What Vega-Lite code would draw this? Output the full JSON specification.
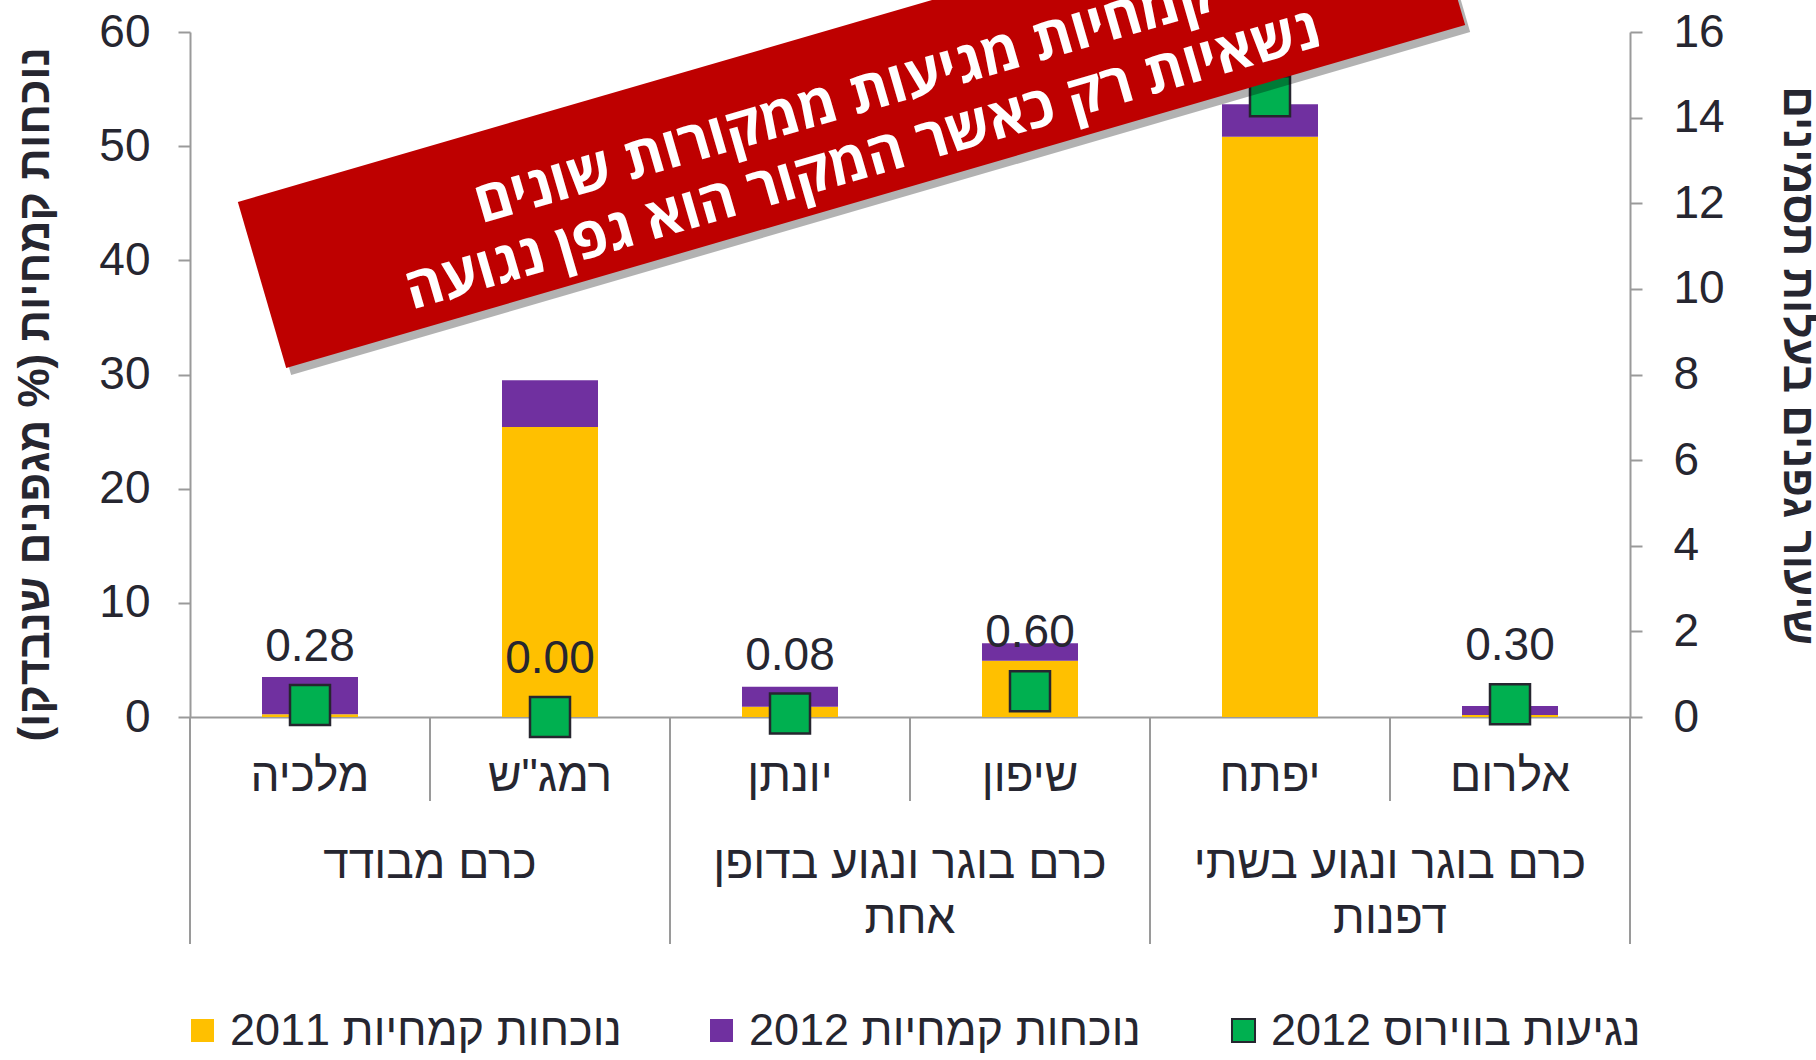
{
  "$schema": "https://vega.github.io/schema/vega-lite/v6.json",
  "width": 1440,
  "height": 685,
  "autosize": {"type": "none"},
  "padding": {"left": 190, "top": 32, "right": 186, "bottom": 343},
  "background": "white",
  "config": {
    "view": {"stroke": null},
    "font": "Liberation Sans",
    "axis": {"grid": false, "labelFont": "Liberation Sans", "labelFontSize": 46, "labelColor": "#262630", "domainColor": "#9a9a9a", "domainWidth": 2, "tickColor": "#9a9a9a", "tickWidth": 2, "titleFont": "Liberation Sans", "titleColor": "#262630"}
  },
  "datasets": {
    "bars": [
      {"vineyard": "מלכיה", "series": "נוכחות קמחיות 2011", "ord": 1, "value": 0.25},
      {"vineyard": "מלכיה", "series": "נוכחות קמחיות 2012", "ord": 2, "value": 3.25},
      {"vineyard": "רמג\"ש", "series": "נוכחות קמחיות 2011", "ord": 1, "value": 25.4},
      {"vineyard": "רמג\"ש", "series": "נוכחות קמחיות 2012", "ord": 2, "value": 4.1},
      {"vineyard": "יונתן", "series": "נוכחות קמחיות 2011", "ord": 1, "value": 0.9},
      {"vineyard": "יונתן", "series": "נוכחות קמחיות 2012", "ord": 2, "value": 1.76},
      {"vineyard": "שיפון", "series": "נוכחות קמחיות 2011", "ord": 1, "value": 4.93},
      {"vineyard": "שיפון", "series": "נוכחות קמחיות 2012", "ord": 2, "value": 1.52},
      {"vineyard": "יפתח", "series": "נוכחות קמחיות 2011", "ord": 1, "value": 50.83},
      {"vineyard": "יפתח", "series": "נוכחות קמחיות 2012", "ord": 2, "value": 2.84},
      {"vineyard": "אלרום", "series": "נוכחות קמחיות 2011", "ord": 1, "value": 0.18},
      {"vineyard": "אלרום", "series": "נוכחות קמחיות 2012", "ord": 2, "value": 0.78}
    ],
    "virus": [
      {"vineyard": "מלכיה", "series": "נגיעות בווירוס 2012", "rate": 0.28},
      {"vineyard": "רמג\"ש", "series": "נגיעות בווירוס 2012", "rate": 0.0},
      {"vineyard": "יונתן", "series": "נגיעות בווירוס 2012", "rate": 0.08},
      {"vineyard": "שיפון", "series": "נגיעות בווירוס 2012", "rate": 0.6},
      {"vineyard": "יפתח", "series": "נגיעות בווירוס 2012", "rate": 14.5},
      {"vineyard": "אלרום", "series": "נגיעות בווירוס 2012", "rate": 0.3}
    ],
    "groups": [
      {"lines": ["כרם מבודד"], "first": "מלכיה", "last": "רמג\"ש"},
      {"lines": ["כרם בוגר ונגוע בדופן", "אחת"], "first": "יונתן", "last": "שיפון"},
      {"lines": ["כרם בוגר ונגוע בשתי", "דפנות"], "first": "יפתח", "last": "אלרום"}
    ]
  },
  "layer": [
    {
      "layer": [
        {
          "data": {"name": "bars"},
          "mark": {"type": "bar"},
          "encoding": {
            "x": {"field": "vineyard", "type": "nominal", "title": null,
              "scale": {"domain": ["מלכיה", "רמג\"ש", "יונתן", "שיפון", "יפתח", "אלרום"], "paddingInner": 0.6, "paddingOuter": 0.3},
              "axis": {"title": null, "labelAngle": 0, "ticks": false, "labelPadding": 59, "labelBaseline": "middle"}},
            "y": {"field": "value", "type": "quantitative", "stack": "zero",
              "scale": {"domain": [0, 60], "nice": false, "zero": true},
              "axis": {"orient": "left", "values": [0, 10, 20, 30, 40, 50, 60], "tickSize": 12, "labelPadding": 28,
                "title": "נוכחות קמחיות (% מגפנים שנבדקו)", "titleFontSize": 44, "titleFontWeight": "bold", "titleX": -155, "titleY": 362, "titleAlign": "center", "titleBaseline": "middle", "titleAngle": -90}},
            "color": {"field": "series", "type": "nominal",
              "scale": {"domain": ["נוכחות קמחיות 2011", "נוכחות קמחיות 2012", "נגיעות בווירוס 2012"], "range": ["#FFC000", "#7030A0", "#00B050"]},
              "legend": {"orient": "none", "legendX": -10, "legendY": 976, "direction": "horizontal", "title": null, "symbolType": "square", "symbolSize": 530, "symbolStrokeWidth": 0, "labelFontSize": 45, "labelColor": "#262630", "labelFont": "Liberation Sans", "labelOffset": 5, "columnPadding": 80, "padding": 0, "labelLimit": 600, "gridAlign": "none",
                "symbolOpacity": 1,
                "encode": {"symbols": {"update": {"stroke": {"signal": "datum.value === 'נגיעות בווירוס 2012' ? '#26262f' : 'transparent'"}, "strokeWidth": {"value": 2}}}}}},
            "order": {"field": "ord", "type": "quantitative"}
          }
        },
        {
          "data": {"name": "groups"},
          "mark": {"type": "rule", "color": "#9a9a9a", "strokeWidth": 2},
          "encoding": {
            "x": {"field": "last", "type": "nominal", "bandPosition": 1.75, "title": null},
            "y": {"datum": 0, "type": "quantitative", "scale": {"domain": [0, 60], "nice": false}, "axis": null},
            "y2": {"datum": -19.88}
          }
        },
        {
          "data": {"name": "groups"},
          "mark": {"type": "rule", "color": "#9a9a9a", "strokeWidth": 2},
          "encoding": {
            "x": {"field": "first", "type": "nominal", "bandPosition": 1.75, "title": null},
            "y": {"datum": 0, "type": "quantitative", "scale": {"domain": [0, 60], "nice": false}, "axis": null},
            "y2": {"datum": -7.36}
          }
        },
        {
          "data": {"values": [{}]},
          "mark": {"type": "rule", "color": "#9a9a9a", "strokeWidth": 2},
          "encoding": {
            "x": {"datum": "מלכיה", "type": "nominal", "bandPosition": -0.75, "title": null},
            "y": {"datum": 0, "type": "quantitative", "scale": {"domain": [0, 60], "nice": false}, "axis": null},
            "y2": {"datum": -19.88}
          }
        },
        {
          "data": {"name": "groups"},
          "mark": {"type": "text", "fontSize": 46, "color": "#262630", "align": "center", "baseline": "alphabetic", "lineHeight": 55},
          "encoding": {
            "x": {"field": "first", "type": "nominal", "bandPosition": 1.75, "title": null},
            "y": {"datum": -14.1, "type": "quantitative", "scale": {"domain": [0, 60], "nice": false}, "axis": null},
            "text": {"field": "lines"}
          }
        },
        {
          "data": {"name": "virus"},
          "mark": {"type": "point", "shape": "square", "filled": true, "size": 1600, "stroke": "#26262f", "strokeWidth": 2.5, "opacity": 1},
          "encoding": {
            "x": {"field": "vineyard", "type": "nominal", "title": null},
            "y": {"field": "rate", "type": "quantitative",
              "scale": {"domain": [0, 16], "nice": false},
              "axis": {"orient": "right", "values": [0, 2, 4, 6, 8, 10, 12, 14, 16], "tickSize": 12, "labelPadding": 31,
                "title": "שיעור גפנים בעלות תסמינים", "titleFontSize": 44, "titleFontWeight": "bold", "titleX": 166, "titleY": 333, "titleAlign": "center", "titleBaseline": "middle", "titleAngle": 90}},
            "color": {"field": "series", "type": "nominal"}
          }
        },
        {
          "data": {"name": "virus"},
          "mark": {"type": "text", "fontSize": 46, "color": "#262630", "align": "center", "baseline": "middle", "dy": -58},
          "encoding": {
            "x": {"field": "vineyard", "type": "nominal", "title": null},
            "y": {"field": "rate", "type": "quantitative", "scale": {"domain": [0, 16], "nice": false}, "axis": null},
            "text": {"field": "rate", "type": "quantitative", "format": ".2f"}
          }
        }
      ],
      "resolve": {"scale": {"y": "independent"}}
    },
    {
      "data": {"values": [{}]},
      "layer": [
        {
          "mark": {"type": "rule", "color": "#000000", "opacity": 0.3, "strokeWidth": 173, "strokeCap": "butt", "xOffset": 5, "yOffset": 7, "x2Offset": 5, "y2Offset": 7},
          "encoding": {
            "x": {"datum": 0.3, "type": "quantitative", "scale": {"domain": [0, 6], "nice": false}, "axis": null},
            "y": {"datum": 37.84, "type": "quantitative", "scale": {"domain": [0, 60], "nice": false}, "axis": null},
            "x2": {"datum": 5.2125},
            "y2": {"datum": 67.88}
          }
        },
        {
          "mark": {"type": "rule", "color": "#BE0000", "strokeWidth": 173, "strokeCap": "butt"},
          "encoding": {
            "x": {"datum": 0.3, "type": "quantitative", "scale": {"domain": [0, 6], "nice": false}, "axis": null},
            "y": {"datum": 37.84, "type": "quantitative", "scale": {"domain": [0, 60], "nice": false}, "axis": null},
            "x2": {"datum": 5.2125},
            "y2": {"datum": 67.88}
          }
        },
        {
          "mark": {"type": "text", "font": "Open Sans, DejaVu Sans", "fontWeight": "bold", "fontSize": 57, "color": "white", "angle": 343.8, "align": "center", "baseline": "middle"},
          "encoding": {
            "x": {"datum": 2.729, "type": "quantitative", "scale": {"domain": [0, 6], "nice": false}, "axis": null},
            "y": {"datum": 54.04, "type": "quantitative", "scale": {"domain": [0, 60], "nice": false}, "axis": null},
            "text": {"value": "קמחיות מגיעות ממקורות שונים"}
          }
        },
        {
          "mark": {"type": "text", "font": "Open Sans, DejaVu Sans", "fontWeight": "bold", "fontSize": 57, "color": "white", "angle": 343.8, "align": "center", "baseline": "middle"},
          "encoding": {
            "x": {"datum": 2.804, "type": "quantitative", "scale": {"domain": [0, 6], "nice": false}, "axis": null},
            "y": {"datum": 48.7, "type": "quantitative", "scale": {"domain": [0, 60], "nice": false}, "axis": null},
            "text": {"value": "נשאיות רק כאשר המקור הוא גפן נגועה"}
          }
        }
      ]
    }
  ],
  "resolve": {"scale": {"x": "independent", "y": "independent"}}
}
